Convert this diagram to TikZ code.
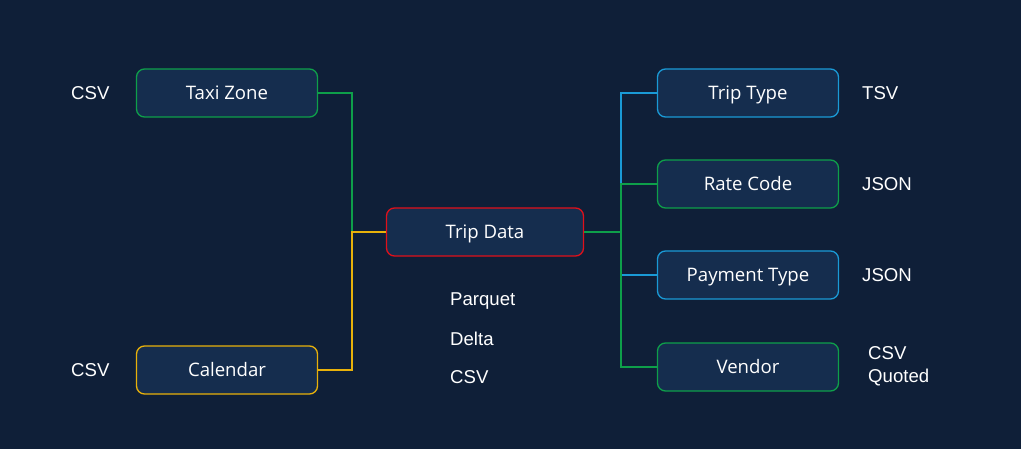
\documentclass[tikz,border=0pt]{standalone}
\usepackage{fontspec}
\setmainfont{Liberation Sans}
\newfontfamily\boxfont{Open Sans}
\usepackage{tikz}

\definecolor{bgcol}{HTML}{0F1F38}
\definecolor{boxfill}{HTML}{152D4E}
\definecolor{zonegreen}{HTML}{0E9F4A}
\definecolor{typeblue}{HTML}{1A9AD6}
\definecolor{triped}{HTML}{E0101A}
\definecolor{calyellow}{HTML}{E8B10A}

\tikzset{
  table/.style={draw, line width=1.3pt, fill=boxfill, rounded corners=8pt,
    minimum width=181pt, minimum height=48pt, inner sep=0pt,
    text height=13.3pt, text depth=0pt,
    text=white, font=\boxfont\fontsize{18.6}{22}\selectfont},
  fmt/.style={text=white, inner sep=0pt, anchor=west, align=left,
    font=\fontsize{18.6}{23}\selectfont},
  link/.style={line width=1.3pt}
}

\begin{document}
\begin{tikzpicture}[x=1pt, y=-1pt]
				\fill[bgcol] (0,0) rectangle (1021,449);
				\useasboundingbox (0,0) rectangle (1021,449);
				
				% tables
				\node[table, draw=zonegreen] (taxi) at (227,93) {Taxi Zone};
				\node[table, draw=calyellow] (calendar) at (227,370) {Calendar};
				\node[table, draw=triped, minimum width=197pt] (trip) at (485,232) {Trip Data};
				\node[table, draw=typeblue] (triptype) at (748,93) {Trip Type};
				\node[table, draw=zonegreen] (ratecode) at (748,184) {Rate Code};
				\node[table, draw=typeblue] (payment) at (748,275) {Payment Type};
				\node[table, draw=zonegreen] (vendor) at (748,367) {Vendor};
				
				% bus lines
				\coordinate (lbus) at (352,232);
				\coordinate (rbus) at (621,232);
				
				% connectors
				\draw[link, zonegreen] (trip.west) -- (lbus) |- (taxi.east);
				\draw[link, calyellow] (trip.west) -- (lbus) |- (calendar.east);
				\draw[link, typeblue] (rbus) |- (triptype.west);
				\draw[link, typeblue] (rbus) |- (payment.west);
				\draw[link, zonegreen] (rbus) |- (ratecode.west);
				\draw[link, zonegreen] (rbus) |- (vendor.west);
				\draw[link, zonegreen] (trip.east) -- (rbus);
				
				% formats
				\node[fmt] (taxifmt) at (71,93) {CSV};
				\node[fmt] (calfmt) at (71,370) {CSV};
				\node[fmt] (parquet) at (450,301) {Parquet};
				\node[fmt] (delta) at (450,339) {Delta};
				\node[fmt] (tripcsv) at (450,377) {CSV};
				\node[fmt] (typefmt) at (862,93) {TSV};
				\node[fmt] (ratefmt) at (862,184) {JSON};
				\node[fmt] (payfmt) at (862,275) {JSON};
				\node[fmt] (vendorfmt) at (868,366) {CSV\\Quoted};
			\end{tikzpicture}
\end{document}
